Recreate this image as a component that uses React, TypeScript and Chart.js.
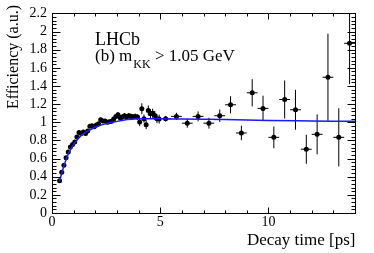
import React, { useEffect, useRef } from 'react';
import { Chart, registerables } from 'chart.js';

Chart.register(...registerables);

// Measured efficiency points (bin centres, values, errors)
const POINT_X = [
  0.35, 0.45, 0.55, 0.65, 0.75, 0.85, 0.95, 1.05, 1.15, 1.25,
  1.35, 1.45, 1.55, 1.65, 1.75, 1.85, 1.95, 2.05, 2.15, 2.25,
  2.35, 2.45, 2.55, 2.65, 2.75, 2.85, 2.95, 3.05, 3.15, 3.25,
  3.35, 3.45, 3.55, 3.65, 3.75, 3.85, 3.95, 4.05, 4.15, 4.25,
  4.35, 4.45, 4.55, 4.65, 4.75, 4.85, 4.95,
  5.25, 5.75, 6.25, 6.75, 7.25, 7.75, 8.25, 8.75, 9.25, 9.75,
  10.25, 10.75, 11.25, 11.75, 12.25, 12.75, 13.25, 13.75,
];
const POINT_Y = [
  0.355, 0.45, 0.527, 0.61, 0.673, 0.728, 0.754, 0.783, 0.838, 0.886,
  0.875, 0.893, 0.875, 0.904, 0.955, 0.963, 0.95, 0.969, 0.984, 1.028,
  1.013, 1.013, 0.999, 1.006, 1.01, 1.035, 1.065, 1.083, 1.05, 1.057,
  1.072, 1.061, 1.072, 1.065, 1.061, 1.065, 1.057, 1.002, 1.149, 1.04,
  0.974, 1.13, 1.094, 1.1, 1.076, 1.04, 1.035,
  1.04, 1.065, 0.99, 1.065, 0.99, 1.072, 1.193, 0.882, 1.325, 1.153,
  0.834, 1.251, 1.138, 0.703, 0.867, 1.496, 0.834, 1.87,
];
const POINT_YERR = [
  0.015, 0.015, 0.015, 0.015, 0.015, 0.015, 0.015, 0.018, 0.018, 0.018,
  0.018, 0.018, 0.018, 0.018, 0.018, 0.018, 0.018, 0.022, 0.022, 0.022,
  0.022, 0.022, 0.022, 0.022, 0.022, 0.022, 0.022, 0.03, 0.03, 0.03,
  0.03, 0.03, 0.03, 0.03, 0.03, 0.03, 0.03, 0.045, 0.06, 0.045,
  0.05, 0.055, 0.05, 0.05, 0.05, 0.05, 0.05,
  0.03, 0.04, 0.05, 0.055, 0.06, 0.068, 0.095, 0.08, 0.15, 0.14,
  0.12, 0.21, 0.22, 0.16, 0.22, 0.48, 0.32, 0.45,
];
const POINT_XERR = [
  0.05, 0.05, 0.05, 0.05, 0.05, 0.05, 0.05, 0.05, 0.05, 0.05,
  0.05, 0.05, 0.05, 0.05, 0.05, 0.05, 0.05, 0.05, 0.05, 0.05,
  0.05, 0.05, 0.05, 0.05, 0.05, 0.05, 0.05, 0.05, 0.05, 0.05,
  0.05, 0.05, 0.05, 0.05, 0.05, 0.05, 0.05, 0.05, 0.05, 0.05,
  0.05, 0.05, 0.05, 0.05, 0.05, 0.05, 0.05,
  0.25, 0.25, 0.25, 0.25, 0.25, 0.25, 0.25, 0.25, 0.25, 0.25,
  0.25, 0.25, 0.25, 0.25, 0.25, 0.25, 0.25, 0.25,
];

// Fitted acceptance curve
const FIT_X = [0.35, 0.5, 0.75, 1.0, 1.25, 1.5, 2.0, 2.5, 3.0, 3.5, 4.0, 5.0, 6.0, 8.0, 10.0, 12.0, 14.0];
const FIT_Y = [0.35, 0.48, 0.65, 0.755, 0.83, 0.88, 0.945, 0.985, 1.01, 1.03, 1.04, 1.04, 1.035, 1.03, 1.02, 1.015, 1.01];

const X_MIN = 0;
const X_MAX = 14;
const Y_MIN = 0;
const Y_MAX = 2.2;
const X_MAJOR = 5;
const X_MINOR = 1;
const Y_MAJOR = 0.2;
const Y_MINOR = 0.04;

const X_TITLE = 'Decay time [ps]';
const Y_TITLE = 'Efficiency (a.u.)';
const LABEL_1 = 'LHCb';
const LABEL_2A = '(b) m';
const LABEL_2SUB = 'KK';
const LABEL_2B = ' > 1.05 GeV';

const SERIF = '"Liberation Serif", "DejaVu Serif", serif';

export default function App() {
  const ref = useRef<HTMLCanvasElement>(null);

  useEffect(() => {
    document.body.style.margin = '0';
    const canvas = ref.current!;

    const overlay = {
      id: 'overlay',
      beforeDatasetsDraw(chart: any) {
        const { ctx, chartArea: a, scales } = chart;
        const x = scales.x;
        const y = scales.y;
        ctx.save();
        ctx.beginPath();
        ctx.rect(a.left, a.top, a.right - a.left, a.bottom - a.top);
        ctx.clip();
        ctx.strokeStyle = '#000';
        ctx.lineWidth = 1;
        POINT_X.forEach((xv, i) => {
          const px = x.getPixelForValue(xv);
          const py = y.getPixelForValue(POINT_Y[i]);
          const yt = y.getPixelForValue(POINT_Y[i] + POINT_YERR[i]);
          const yb = y.getPixelForValue(POINT_Y[i] - POINT_YERR[i]);
          const xl = x.getPixelForValue(xv - POINT_XERR[i]);
          const xr = x.getPixelForValue(xv + POINT_XERR[i]);
          ctx.beginPath();
          ctx.moveTo(px, yt);
          ctx.lineTo(px, yb);
          ctx.moveTo(xl, py);
          ctx.lineTo(xr, py);
          ctx.stroke();
        });
        ctx.restore();
      },
      afterDraw(chart: any) {
        const { ctx, chartArea: a, scales } = chart;
        const x = scales.x;
        const y = scales.y;
        ctx.save();
        ctx.strokeStyle = '#000';
        ctx.lineWidth = 1;
        const L = Math.round(a.left) + 0.5;
        const R = Math.round(a.right) + 0.5;
        const T = Math.round(a.top) + 0.5;
        const B = Math.round(a.bottom) + 0.5;
        ctx.strokeRect(L, T, R - L, B - T);
        ctx.beginPath();
        // x ticks
        const nx = Math.round((X_MAX - X_MIN) / X_MINOR);
        for (let i = 0; i <= nx; i++) {
          const v = X_MIN + i * X_MINOR;
          const major = Math.abs(v / X_MAJOR - Math.round(v / X_MAJOR)) < 1e-6;
          const len = major ? 6 : 3;
          const px = Math.round(x.getPixelForValue(v)) + 0.5;
          ctx.moveTo(px, B);
          ctx.lineTo(px, B - len);
          ctx.moveTo(px, T);
          ctx.lineTo(px, T + len);
        }
        // y ticks
        const ny = Math.round((Y_MAX - Y_MIN) / Y_MINOR);
        for (let i = 0; i <= ny; i++) {
          const v = Y_MIN + i * Y_MINOR;
          const major = i % Math.round(Y_MAJOR / Y_MINOR) === 0;
          const len = major ? 8 : 4;
          const py = Math.round(y.getPixelForValue(v)) + 0.5;
          ctx.moveTo(L, py);
          ctx.lineTo(L + len, py);
          ctx.moveTo(R, py);
          ctx.lineTo(R - len, py);
        }
        ctx.stroke();

        // texts
        ctx.fillStyle = '#000';
        ctx.textBaseline = 'alphabetic';
        ctx.font = `17px ${SERIF}`;
        ctx.textAlign = 'right';
        ctx.fillText(X_TITLE, R, 245);

        ctx.save();
        ctx.translate(18, 5);
        ctx.rotate(-Math.PI / 2);
        ctx.textAlign = 'right';
        ctx.font = `16px ${SERIF}`;
        ctx.fillText(Y_TITLE, 0, 0);
        ctx.restore();

        ctx.textAlign = 'left';
        ctx.font = `18px ${SERIF}`;
        ctx.fillText(LABEL_1, 95, 45);
        ctx.font = `17px ${SERIF}`;
        let cx = 95;
        ctx.fillText(LABEL_2A, cx, 61);
        cx += ctx.measureText(LABEL_2A).width + 1;
        ctx.font = `12px ${SERIF}`;
        ctx.fillText(LABEL_2SUB, cx, 68);
        cx += ctx.measureText(LABEL_2SUB).width;
        ctx.font = `17px ${SERIF}`;
        ctx.fillText(LABEL_2B, cx, 61);
        ctx.restore();
      },
    };

    const chart = new Chart(canvas, {
      type: 'scatter',
      data: {
        datasets: [
          {
            type: 'line',
            data: FIT_X.map((v, i) => ({ x: v, y: FIT_Y[i] })),
            borderColor: '#1a1aff',
            borderWidth: 1.5,
            pointRadius: 0,
            fill: false,
            cubicInterpolationMode: 'monotone',
          } as any,
          {
            data: POINT_X.map((v, i) => ({ x: v, y: POINT_Y[i] })),
            backgroundColor: '#000',
            borderColor: '#000',
            pointRadius: 2.5,
            pointBorderWidth: 0,
            showLine: false,
          },
        ],
      },
      options: {
        animation: false,
        responsive: false,
        devicePixelRatio: 1,
        layout: { padding: { left: 0, right: 19, top: 13, bottom: 0 } },
        plugins: { legend: { display: false }, tooltip: { enabled: false } },
        scales: {
          x: {
            type: 'linear',
            min: X_MIN,
            max: X_MAX,
            grid: { display: false, drawTicks: false },
            border: { display: false },
            ticks: {
              stepSize: X_MAJOR,
              includeBounds: false,
              autoSkip: false,
              padding: 1,
              color: '#000',
              maxRotation: 0,
              font: { family: SERIF, size: 14 },
            },
            afterFit: (s: any) => { s.height = 40; },
          },
          y: {
            type: 'linear',
            min: Y_MIN,
            max: Y_MAX,
            grid: { display: false, drawTicks: false },
            border: { display: false },
            ticks: {
              stepSize: Y_MAJOR,
              autoSkip: false,
              padding: 5,
              color: '#000',
              font: { family: SERIF, size: 14 },
              callback: (v: any) => String(parseFloat(Number(v).toFixed(1))),
            },
            afterFit: (s: any) => { s.width = 52; },
          },
        },
      },
      plugins: [overlay],
    });
    return () => chart.destroy();
  }, []);

  return (
    <div style={{ position: 'absolute', left: 0, top: 0, width: 374, height: 253, background: '#fff' }}>
      <canvas ref={ref} width={374} height={253} />
    </div>
  );
}
